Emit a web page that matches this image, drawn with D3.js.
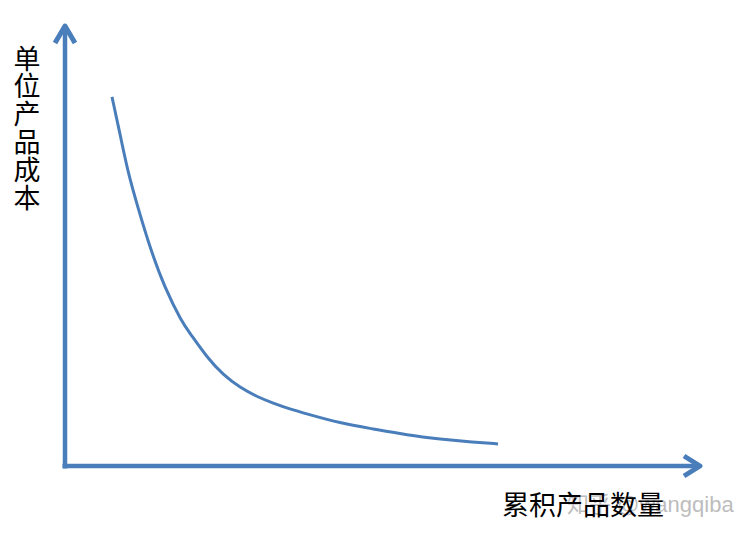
<!DOCTYPE html>
<html>
<head>
<meta charset="utf-8">
<script src="https://cdn.jsdelivr.net/npm/d3@7"></script>
<style>
  html, body { margin: 0; padding: 0; background: #fff; }
  svg { display: block; }
</style>
</head>
<body>
<svg id="chart" width="749" height="536"></svg>
<script>
// ---- data (arbitrary units 0..100) ----
const quantity = [7.4, 8.7, 9.9, 11.5, 13.4, 15.7, 18.4, 19.7, 22.4, 24.9, 27.6, 30.2, 32.8, 35.4, 38.1, 43.3, 48.5, 53.9, 59.1, 64.3, 68.2];
const unitCost = [83.5, 74.9, 66.5, 58.4, 49.3, 40.3, 32.6, 30.0, 24.5, 20.6, 17.7, 15.7, 14.2, 12.9, 11.8, 9.7, 8.4, 7.0, 6.1, 5.4, 5.0];
const yLabel = ["单", "位", "产", "品", "成", "本"];
const xLabel = "累积产品数量";
const watermark = "知乎 @wangqiba";

const blue = "#4a7ebb";
const svg = d3.select("#chart");

const x = d3.scaleLinear().domain([0, 100]).range([65, 700]);
const y = d3.scaleLinear().domain([0, 100]).range([466, 24]);

// axes
const g = svg.append("g");
g.append("line")
  .attr("x1", x(0)).attr("y1", y(0) + 2.5)
  .attr("x2", x(0)).attr("y2", y(100) + 3)
  .attr("stroke", blue).attr("stroke-width", 4.5);
g.append("line")
  .attr("x1", x(0) - 2.5).attr("y1", y(0))
  .attr("x2", x(100) - 4).attr("y2", y(0))
  .attr("stroke", blue).attr("stroke-width", 4.5);

// arrow heads
g.append("path")
  .attr("d", `M${x(0) - 10},${y(100) + 19} L${x(0)},${y(100) + 2} L${x(0) + 10},${y(100) + 19}`)
  .attr("fill", "none").attr("stroke", blue).attr("stroke-width", 5)
  .attr("stroke-linejoin", "round");
g.append("path")
  .attr("d", `M${x(100) - 16},${y(0) - 10} L${x(100)},${y(0)} L${x(100) - 16},${y(0) + 10}`)
  .attr("fill", "none").attr("stroke", blue).attr("stroke-width", 5)
  .attr("stroke-linejoin", "round");

// curve
const pts = quantity.map((q, i) => [q, unitCost[i]]);
const line = d3.line()
  .x(d => x(d[0])).y(d => y(d[1]))
  .curve(d3.curveBasis);
svg.append("path")
  .datum(pts)
  .attr("d", line)
  .attr("fill", "none")
  .attr("stroke", blue)
  .attr("stroke-width", 3)
  .attr("stroke-linecap", "butt");

// y label (vertical, one char per row)
const yl = svg.append("g");
yLabel.forEach((ch, i) => {
  yl.append("text")
    .attr("x", 27).attr("y", 57 + i * 27.8)
    .attr("text-anchor", "middle")
    .attr("dominant-baseline", "central")
    .attr("font-family", "'Noto Sans CJK SC', sans-serif")
    .attr("font-size", 27)
    .attr("fill", "#000")
    .text(ch);
});

// watermark (behind x label)
svg.append("text")
  .attr("x", 567).attr("y", 504)
  .attr("dominant-baseline", "central")
  .attr("font-family", "'Liberation Sans', 'Noto Sans CJK SC', sans-serif")
  .attr("font-size", 22)
  .attr("fill", "#bdbdbd")
  .text(watermark);

// x label
svg.append("text")
  .attr("x", 502).attr("y", 503)
  .attr("dominant-baseline", "central")
  .attr("font-family", "'Noto Sans CJK SC', sans-serif")
  .attr("font-size", 27)
  .attr("fill", "#000")
  .text(xLabel);
</script>
</body>
</html>
